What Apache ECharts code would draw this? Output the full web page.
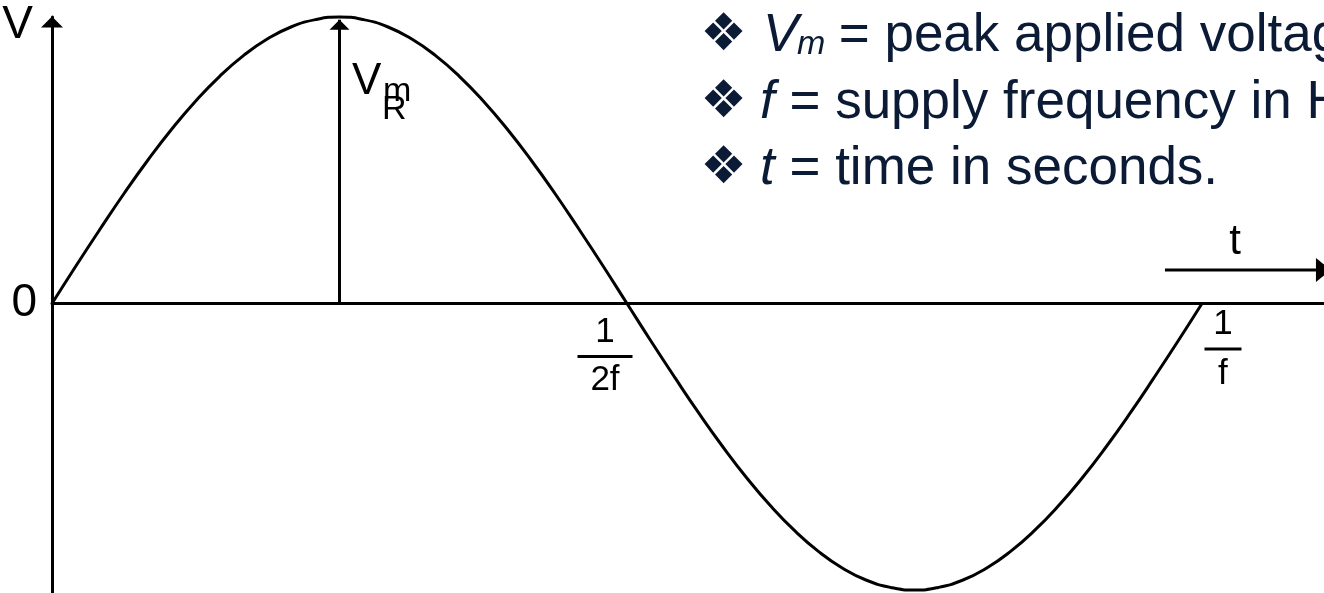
<!DOCTYPE html>
<html>
<head>
<meta charset="utf-8">
<script src="https://cdn.jsdelivr.net/npm/echarts@6/dist/echarts.min.js"></script>
<style>
html,body{margin:0;padding:0;background:#fff;overflow:hidden}
#c{width:1324px;height:593px}
</style>
</head>
<body>
<div id="c"></div>
<script>
// ---- data ----
// time as a fraction of one period (t·f)
const periodT = [0, 0.0208, 0.0417, 0.0625, 0.0833, 0.1042, 0.125, 0.1458, 0.1667, 0.1875, 0.2083, 0.2292, 0.25,
                 0.2708, 0.2917, 0.3125, 0.3333, 0.3542, 0.375, 0.3958, 0.4167, 0.4375, 0.4583, 0.4792, 0.5,
                 0.5208, 0.5417, 0.5625, 0.5833, 0.6042, 0.625, 0.6458, 0.6667, 0.6875, 0.7083, 0.7292, 0.75,
                 0.7708, 0.7917, 0.8125, 0.8333, 0.8542, 0.875, 0.8958, 0.9167, 0.9375, 0.9583, 0.9792, 1];
// voltage as a fraction of the peak Vm
const voltage = [0, 0.131, 0.259, 0.383, 0.5, 0.609, 0.707, 0.793, 0.866, 0.924, 0.966, 0.991, 1,
                 0.991, 0.966, 0.924, 0.866, 0.793, 0.707, 0.609, 0.5, 0.383, 0.259, 0.131, 0,
                 -0.131, -0.259, -0.383, -0.5, -0.609, -0.707, -0.793, -0.866, -0.924, -0.966, -0.991, -1,
                 -0.991, -0.966, -0.924, -0.866, -0.793, -0.707, -0.609, -0.5, -0.383, -0.259, -0.131, 0];
const xTickValues = [0.5, 1];
const xTickNum = ['1', '1'];
const xTickDen = ['2f', 'f'];
const yTickValues = [0];
const yTickLabels = ['0'];
const yAxisName = 'V';
const timeArrowLabel = 't';
const peakMarker = [0.25, 0.99];
const peakLabel = ['V', 'm', 'R'];
const noteHeading = 'where';
const noteSymbols = ['V', 'f', 't'];
const noteSubs = ['m', '', ''];
const noteTexts = [' = peak applied voltage', ' = supply frequency in Hz', ' = time in seconds.'];

// ---- styling ----
const FONT = '"Liberation Sans", Arial, Helvetica, sans-serif';
const NAVY = '#0b1b36';
const INK = '#000';

const chart = echarts.init(document.getElementById('c'), null, {renderer: 'canvas'});

const option = {
  animation: false,
  backgroundColor: '#fff',
  grid: {left: 52, right: 0, top: 17, bottom: 0, containLabel: false, outerBoundsMode: 'none'},
  xAxis: {
    type: 'value', min: 0, max: 1.1061,
    axisLine: {show: true, onZero: true, lineStyle: {color: INK, width: 3}},
    axisTick: {show: false}, axisLabel: {show: false}, splitLine: {show: false}
  },
  yAxis: {
    type: 'value', min: -1.0105, max: 1,
    name: yAxisName, nameLocation: 'end', nameGap: -8,
    nameTextStyle: {fontFamily: FONT, fontSize: 46, color: INK, align: 'right', verticalAlign: 'middle', padding: [0, 19, 0, 0]},
    axisLine: {show: true, onZero: true, symbol: ['none', 'triangle'], symbolSize: [22, 11], symbolOffset: [0, -5],
               lineStyle: {color: INK, width: 3}},
    axisTick: {show: false}, splitLine: {show: false},
    axisLabel: {
      customValues: yTickValues,
      formatter: function (v) { const i = yTickValues.indexOf(v); return i < 0 ? '' : yTickLabels[i]; },
      fontFamily: FONT, fontSize: 46, color: INK, margin: 15
    }
  },
  series: [{
    type: 'line',
    data: periodT.map(function (t, i) { return [t, voltage[i]]; }),
    smooth: true, symbol: 'none', clip: false,
    lineStyle: {color: INK, width: 3},
    markLine: {
      silent: true, animation: false,
      symbol: ['none', 'none'],
      lineStyle: {color: INK, width: 3, type: 'solid'},
      label: {show: false},
      emphasis: {disabled: true},
      data: [[{coord: [peakMarker[0], 0]}, {coord: [peakMarker[0], peakMarker[1]]}]]
    }
  }]
};
chart.setOption(option);

function px(t, v) { return chart.convertToPixel({gridIndex: 0}, [t, v]); }

const g = [];

// arrow head of the peak marker
const pk = px(peakMarker[0], peakMarker[1]);
g.push({type: 'polygon', silent: true, z: 10, shape: {points: [[pk[0], pk[1]], [pk[0] + 10, pk[1] + 10], [pk[0] - 10, pk[1] + 10]]}, style: {fill: INK}});

// fraction tick labels on the time axis
const fracDx = [-22, 21], fracDy = [17, 8], fracBar = [55, 37], fracLH = [24, 25];
xTickValues.forEach(function (t, i) {
  const p = px(t, 0);
  g.push({
    type: 'text', x: p[0] + fracDx[i], y: p[1] + fracDy[i], silent: true,
    style: {
      text: '{n|' + xTickNum[i] + '}\n{bar|}\n{d|' + xTickDen[i] + '}',
      align: 'center', verticalAlign: 'top',
      rich: {
        n: {fontFamily: FONT, fontSize: 35, lineHeight: fracLH[i], fill: INK, align: 'center'},
        bar: {width: fracBar[i], height: 3, lineHeight: fracLH[i], backgroundColor: INK, align: 'center'},
        d: {fontFamily: FONT, fontSize: 35, lineHeight: fracLH[i], fill: INK, align: 'center'}
      }
    }
  });
});

// "t" arrow at the right
const ta = px(0.9678, 0.117), tb = px(1.0991, 0.117);
g.push({type: 'line', silent: true, shape: {x1: ta[0], y1: ta[1], x2: tb[0], y2: tb[1]}, style: {stroke: INK, lineWidth: 3}});
g.push({type: 'polygon', silent: true, shape: {points: [[tb[0], tb[1] - 12], [tb[0] + 15, tb[1]], [tb[0], tb[1] + 12]]}, style: {fill: INK}});
const tl = px(1.0287, 0.213);
g.push({type: 'text', silent: true, x: tl[0], y: tl[1], style: {text: timeArrowLabel, font: '42px ' + FONT, fill: INK, align: 'center', verticalAlign: 'middle'}});

// Vm label beside the peak marker
const v1 = px(0.2609, 0.774), v2 = px(0.2878, 0.741), v3 = px(0.287, 0.675);
g.push({type: 'text', silent: true, x: v1[0], y: v1[1], style: {text: peakLabel[0], font: '44px ' + FONT, fill: INK, align: 'left', verticalAlign: 'middle'}});
g.push({type: 'text', silent: true, x: v3[0], y: v3[1], style: {text: peakLabel[2], font: '34px ' + FONT, fill: INK, align: 'left', verticalAlign: 'middle'}});
g.push({type: 'text', silent: true, x: v2[0], y: v2[1], style: {text: peakLabel[1], font: '34px ' + FONT, fill: INK, align: 'left', verticalAlign: 'middle'}});

// note block on the upper right
const lineMid = [36.6, 103.6, 169.6];
g.push({type: 'text', silent: true, x: 706, y: -15.4, style: {text: noteHeading, font: '53px ' + FONT, fill: NAVY, align: 'left', verticalAlign: 'middle'}});
noteSymbols.forEach(function (s, i) {
  g.push({type: 'text', silent: true, x: 723.5, y: lineMid[i], style: {text: '\u2756', font: '52px "DejaVu Sans"', fill: NAVY, align: 'center', verticalAlign: 'middle'}});
  if (noteSubs[i]) {
    g.push({type: 'text', silent: true, x: 763, y: lineMid[i], style: {text: s, font: 'italic 53px ' + FONT, fill: NAVY, align: 'left', verticalAlign: 'middle'}});
    g.push({type: 'text', silent: true, x: 797, y: lineMid[i] + 8, style: {text: noteSubs[i], font: 'italic 34px ' + FONT, fill: NAVY, align: 'left', verticalAlign: 'middle'}});
    g.push({type: 'text', silent: true, x: 824, y: lineMid[i], style: {text: noteTexts[i], font: '53px ' + FONT, fill: NAVY, align: 'left', verticalAlign: 'middle'}});
  } else {
    g.push({type: 'text', silent: true, x: 760, y: lineMid[i], style: {
      text: '{i|' + s + '}{r|' + noteTexts[i] + '}', align: 'left', verticalAlign: 'middle',
      rich: {
        i: {fontFamily: FONT, fontSize: 53, fontStyle: 'italic', fill: NAVY},
        r: {fontFamily: FONT, fontSize: 53, fill: NAVY}
      }
    }});
  }
});

chart.setOption({graphic: g});
</script>
</body>
</html>
